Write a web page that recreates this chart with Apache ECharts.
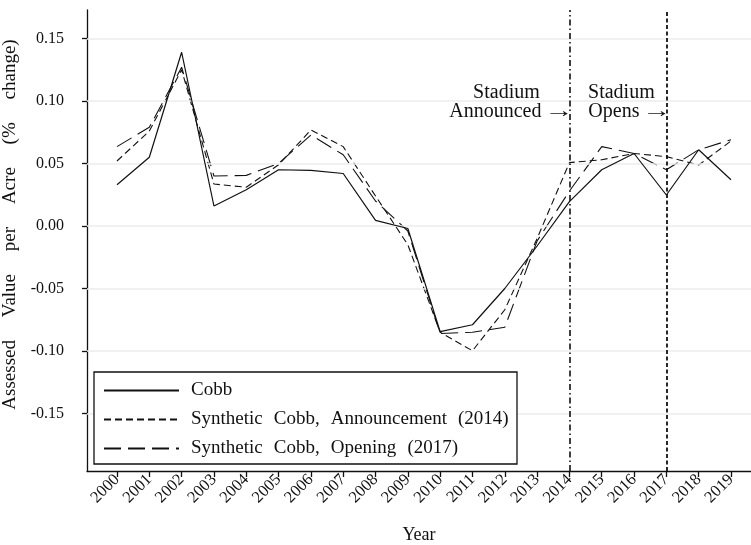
<!DOCTYPE html>
<html>
<head>
<meta charset="utf-8">
<script src="https://cdn.jsdelivr.net/npm/echarts@6/dist/echarts.min.js"></script>
<style>
  html, body { margin: 0; padding: 0; background: #fff; }
  #chart { width: 751px; height: 545px; }
</style>
</head>
<body>
<div id="chart"></div>
<script>
// Assessed value per acre, annual % change, Cobb County vs. synthetic controls
const years = [2000, 2001, 2002, 2003, 2004, 2005, 2006, 2007, 2008, 2009,
               2010, 2011, 2012, 2013, 2014, 2015, 2016, 2017, 2018, 2019];

const cobb = [0.033, 0.055, 0.139, 0.016, 0.029, 0.045, 0.0445, 0.042, 0.0045, -0.002,
              -0.0845, -0.079, -0.050, -0.016, 0.0195, 0.045, 0.058, 0.0248, 0.061, 0.037];

const synthAnnouncement = [0.052, 0.076, 0.125, 0.0336, 0.031, 0.049, 0.0768, 0.0635, 0.024, -0.015,
                           -0.085, -0.0998, -0.067, -0.010, 0.0507, 0.053, 0.058, 0.0555, 0.0488, 0.068];

const synthOpening = [0.0635, 0.079, 0.127, 0.040, 0.0405, 0.050, 0.0728, 0.057, 0.020, -0.004,
                      -0.086, -0.085, -0.081, -0.012, 0.028, 0.0635, 0.058, 0.045, 0.061, 0.069];

const yTicks = [-0.15, -0.10, -0.05, 0.00, 0.05, 0.10, 0.15];

// wide word spacing as in the original typesetting
const GAP = '\u2002\u200A';
const seriesNames = ['Cobb',
  ['Synthetic', 'Cobb,', 'Announcement', '(2014)'].join(GAP),
  ['Synthetic', 'Cobb,', 'Opening', '(2017)'].join(GAP)];
const yTitle = ['Assessed', 'Value', 'per', 'Acre', '(%', 'change)'].join('\u2003\u2009');

const announceYear = 2014;
const openYear = 2017;

const FONT = 'Liberation Serif';
const INK = '#111';

const pairs = arr => years.map((y, i) => [y, arr[i]]);

const chart = echarts.init(document.getElementById('chart'), null, { renderer: 'canvas' });

const option = {
  animation: false,
  backgroundColor: '#fff',
  grid: { left: 87, right: 0, top: 10, bottom: 74, containLabel: false, outerBoundsMode: 'none' },
  xAxis: {
    type: 'value',
    min: 1999.0717,
    max: 2019.619,
    name: 'Year',
    nameLocation: 'middle',
    nameGap: 55,
    nameTextStyle: { fontFamily: FONT, fontSize: 18, color: INK },
    axisLine: { show: true, onZero: false, lineStyle: { color: INK, width: 1.3 } },
    axisTick: { show: true, length: 6, customValues: years, lineStyle: { color: INK, width: 1.3 } },
    axisLabel: {
      customValues: years,
      rotate: 45,
      margin: 6,
      fontFamily: FONT, fontSize: 16.5, color: INK,
      formatter: v => String(v)
    },
    splitLine: { show: false }
  },
  yAxis: {
    type: 'value',
    min: -0.196,
    max: 0.1728,
    name: yTitle,
    nameLocation: 'middle',
    nameGap: 57,
    nameTextStyle: { fontFamily: FONT, fontSize: 19, color: INK, padding: [0, 0, 0, 32] },
    axisLine: { show: true, lineStyle: { color: INK, width: 1.3 } },
    axisTick: { show: true, length: 5, customValues: yTicks, lineStyle: { color: INK, width: 1.3 } },
    axisLabel: {
      customValues: yTicks,
      margin: 23,
      fontFamily: FONT, fontSize: 16, color: INK,
      formatter: v => v.toFixed(2)
    },
    splitLine: { show: false }
  },
  legend: {
    orient: 'vertical',
    left: 103,
    top: 381,
    padding: 0,
    itemWidth: 75,
    itemHeight: 12,
    itemGap: 10,
    z: 10,
    data: seriesNames,
    itemStyle: { color: 'transparent', borderColor: 'transparent', opacity: 0 },
    textStyle: { fontFamily: FONT, fontSize: 19, color: INK, padding: [0, 0, 0, 7] },
    inactiveColor: INK,
    selectedMode: false
  },
  series: [
    {
      // horizontal reference grid
      type: 'line',
      name: 'grid',
      data: [],
      z: 1,
      silent: true,
      markLine: {
        silent: true,
        symbol: 'none',
        label: { show: false },
        lineStyle: { color: '#ececec', width: 1.6, type: 'solid' },
        data: yTicks.map(v => ({ yAxis: v }))
      }
    },
    {
      type: 'line',
      name: seriesNames[0],
      data: pairs(cobb),
      showSymbol: false,
      symbol: 'none',
      z: 5,
      lineStyle: { color: INK, width: 1.2, type: 'solid' },
      itemStyle: { color: INK },
      markLine: {
        silent: true,
        symbol: 'none',
        label: { show: false },
        data: [
          { xAxis: announceYear, lineStyle: { color: INK, width: 1.6, type: [6, 3, 1.5, 3] } },
          { xAxis: openYear, lineStyle: { color: INK, width: 1.8, type: [4, 2.5] } }
        ]
      }
    },
    {
      type: 'line',
      name: seriesNames[1],
      data: pairs(synthAnnouncement),
      showSymbol: false,
      symbol: 'none',
      z: 4,
      lineStyle: { color: INK, width: 1.1, type: [7, 4] },
      itemStyle: { color: INK }
    },
    {
      type: 'line',
      name: seriesNames[2],
      data: pairs(synthOpening),
      showSymbol: false,
      symbol: 'none',
      z: 4,
      lineStyle: { color: INK, width: 1.1, type: [17, 7] },
      itemStyle: { color: INK }
    }
  ]
};

chart.setOption(option);

// Legend frame and event annotations, placed from axis coordinates
function placeOverlays() {
  const xA = chart.convertToPixel({ xAxisIndex: 0 }, announceYear);
  const xO = chart.convertToPixel({ xAxisIndex: 0 }, openYear);
  const yLine1 = chart.convertToPixel({ yAxisIndex: 0 }, 0.1065);
  const yLine2 = chart.convertToPixel({ yAxisIndex: 0 }, 0.0912);
  const txt = (text, x, y, align) => ({
    type: 'text', z: 6, silent: true,
    style: { text, x, y, align: align || 'center', verticalAlign: 'middle',
             font: '20px "' + FONT + '"', fill: INK }
  });
  // stretched arrow whose tip touches the event line
  const arrow = (x, y) => ({
    type: 'text', z: 6, silent: true, x, y, scaleX: 1.45,
    style: { text: '\u2192', x: 0, y: 0, align: 'right', verticalAlign: 'middle',
             font: '20px "' + FONT + '"', fill: INK }
  });
  chart.setOption({
    graphic: [
      {
        type: 'rect', z: 8, silent: true,
        shape: { x: 94, y: 372, width: 423, height: 92 },
        style: { fill: '#fff', stroke: INK, lineWidth: 1.3 }
      },
      txt('Stadium', xA - 63, yLine1),
      txt('Announced', xA - 28, yLine2, 'right'),
      arrow(xA + 4, yLine2),
      txt('Stadium', xO - 45, yLine1),
      txt('Opens', xO - 78, yLine2, 'left'),
      arrow(xO + 5, yLine2)
    ]
  });
}
placeOverlays();
</script>
</body>
</html>
